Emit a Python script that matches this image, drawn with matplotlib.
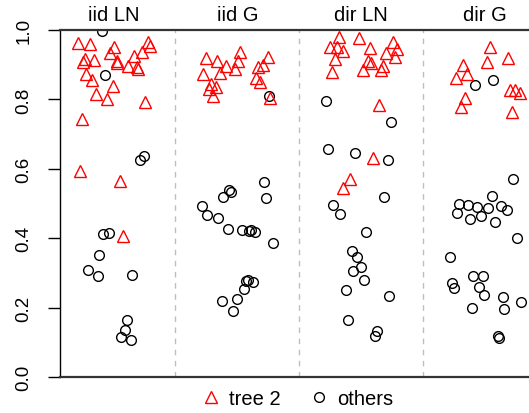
import matplotlib
matplotlib.use("Agg")
import matplotlib.pyplot as plt
from matplotlib.lines import Line2D

plt.rcParams['font.family'] = ['Liberation Sans', 'DejaVu Sans']

panels = ["iid LN", "iid G", "dir LN", "dir G"]
yticks = [0.0, 0.2, 0.4, 0.6, 0.8, 1.0]
ytick_labels = ["0.0", "0.2", "0.4", "0.6", "0.8", "1.0"]

# tree 2: horizontal jitter and value per panel
tree2_jit_1 = [-0.287, -0.188, -0.228, -0.242, -0.153, 0.008, -0.027, 0.027, 0.032, 0.121, 0.169,
               0.189, 0.197, 0.229, 0.277, 0.294, -0.220, -0.174, -0.140, -0.053, -0.005, 0.256,
               -0.255, -0.269, 0.054, 0.081]
tree2_val_1 = [0.963, 0.961, 0.916, 0.909, 0.914, 0.952, 0.934, 0.910, 0.905, 0.897, 0.924,
               0.894, 0.889, 0.936, 0.966, 0.955, 0.873, 0.857, 0.815, 0.800, 0.840, 0.793,
               0.743, 0.594, 0.566, 0.405]
tree2_jit_2 = [-0.255, -0.166, -0.091, 0.022, 0.008, -0.019, -0.140, -0.274, -0.215, -0.174,
               -0.226, -0.198, 0.245, 0.210, 0.169, 0.151, 0.183, 0.264]
tree2_val_2 = [0.920, 0.910, 0.897, 0.937, 0.910, 0.888, 0.876, 0.873, 0.844, 0.835,
               0.830, 0.811, 0.921, 0.900, 0.892, 0.862, 0.851, 0.804]
tree2_jit_3 = [-0.180, -0.252, -0.198, -0.145, -0.212, -0.239, -0.019, 0.070, 0.197, 0.258,
               0.290, 0.272, 0.056, 0.078, 0.011, 0.173, 0.156, 0.145, 0.097, -0.091, -0.150]
tree2_val_3 = [0.979, 0.950, 0.950, 0.940, 0.916, 0.878, 0.977, 0.948, 0.935, 0.966,
               0.945, 0.921, 0.910, 0.904, 0.885, 0.895, 0.886, 0.784, 0.630, 0.571, 0.545]
tree2_jit_4 = [0.038, 0.185, 0.011, -0.182, -0.150, -0.239, 0.199, 0.240, 0.280, -0.164,
               -0.196, 0.218]
tree2_val_4 = [0.950, 0.919, 0.909, 0.900, 0.873, 0.861, 0.828, 0.828, 0.818, 0.804,
               0.777, 0.763]

# others: horizontal jitter and value per panel
others_jit_1 = [-0.094, -0.067, 0.215, 0.248, -0.081, -0.037, -0.113, -0.202, -0.126, 0.153,
                0.108, 0.094, 0.062, 0.140]
others_val_1 = [0.997, 0.871, 0.626, 0.638, 0.412, 0.416, 0.352, 0.309, 0.290, 0.295,
                0.165, 0.136, 0.114, 0.107]
others_jit_2 = [0.258, 0.218, 0.229, -0.065, -0.051, -0.113, -0.282, -0.242, -0.153, -0.077,
                0.035, 0.097, 0.110, 0.143, 0.285, 0.070, 0.084, 0.129, 0.054, -0.126,
                -0.005, -0.037]
others_val_2 = [0.809, 0.561, 0.515, 0.540, 0.532, 0.518, 0.494, 0.468, 0.457, 0.427,
                0.424, 0.422, 0.424, 0.417, 0.385, 0.278, 0.280, 0.275, 0.254, 0.220,
                0.225, 0.191]
others_jit_3 = [-0.285, -0.271, -0.226, -0.172, 0.240, -0.051, 0.218, 0.185, 0.038, -0.077,
                -0.032, -0.005, -0.065, 0.022, -0.123, 0.226, -0.110, 0.129, 0.110]
others_val_3 = [0.794, 0.657, 0.497, 0.470, 0.734, 0.645, 0.625, 0.518, 0.417, 0.364,
                0.345, 0.316, 0.305, 0.280, 0.252, 0.234, 0.164, 0.132, 0.119]
others_jit_4 = [-0.081, 0.065, 0.226, 0.052, -0.212, -0.137, -0.065, 0.024, 0.127, 0.173,
                -0.226, -0.123, -0.035, 0.081, 0.258, -0.285, -0.097, -0.021, -0.266, -0.252,
                -0.048, -0.008, 0.140, 0.288, -0.107, 0.153, 0.100, 0.113]
others_val_4 = [0.841, 0.856, 0.572, 0.521, 0.499, 0.496, 0.489, 0.486, 0.492, 0.482,
                0.474, 0.455, 0.463, 0.446, 0.400, 0.345, 0.290, 0.290, 0.271, 0.256,
                0.258, 0.237, 0.231, 0.215, 0.200, 0.196, 0.117, 0.111]

tree2_jit = [tree2_jit_1, tree2_jit_2, tree2_jit_3, tree2_jit_4]
tree2_val = [tree2_val_1, tree2_val_2, tree2_val_3, tree2_val_4]
others_jit = [others_jit_1, others_jit_2, others_jit_3, others_jit_4]
others_val = [others_val_1, others_val_2, others_val_3, others_val_4]

fig = plt.figure(figsize=(5.29, 4.14), dpi=100)
ax = fig.add_axes([60 / 529, 36 / 414, 1 - 60 / 529, 347 / 414])

tri_kw = dict(linestyle='none', marker='^', markersize=9, markerfacecolor='none',
              markeredgecolor='#FF0000', markeredgewidth=1.0)
circ_kw = dict(linestyle='none', marker='o', markersize=7, markerfacecolor='none',
               markeredgecolor='black', markeredgewidth=1.0)

for i in range(len(panels)):
    pos = i + 1
    ax.plot([pos + j for j in others_jit[i]], others_val[i], **circ_kw)
    ax.plot([pos + j for j in tree2_jit[i]], tree2_val[i], **tri_kw)
    if i > 0:
        ax.axvline(pos - 0.5, color='#BEBEBE', linestyle=(0, (4, 4)), linewidth=1.0, zorder=0)
    ax.text(pos, 1.017, panels[i], transform=ax.get_xaxis_transform(), ha='center',
            va='bottom', fontsize=14.5)

ax.set_xlim(0.570, 4.352)
ax.set_ylim(0, 1)
ax.set_xticks([])
ax.set_yticks(yticks)
ax.set_yticklabels(ytick_labels, rotation=90, va='center', fontsize=13.5)
ax.tick_params(axis='y', length=9, width=1.0, pad=11)

ax.spines['right'].set_visible(False)
ax.spines['left'].set_color('black')
ax.spines['left'].set_linewidth(1.0)
for side in ('top', 'bottom'):
    ax.spines[side].set_color('#333333')
    ax.spines[side].set_linewidth(1.6)

handles = [Line2D([], [], **tri_kw), Line2D([], [], **circ_kw)]
fig.legend(handles, ["tree 2", "others"], loc='center', bbox_to_anchor=(0.560, 0.036),
           ncol=2, frameon=False, fontsize=14.5, handletextpad=0.3, columnspacing=1.3,
           handlelength=1.2)

fig.savefig("out.png", dpi=100)
